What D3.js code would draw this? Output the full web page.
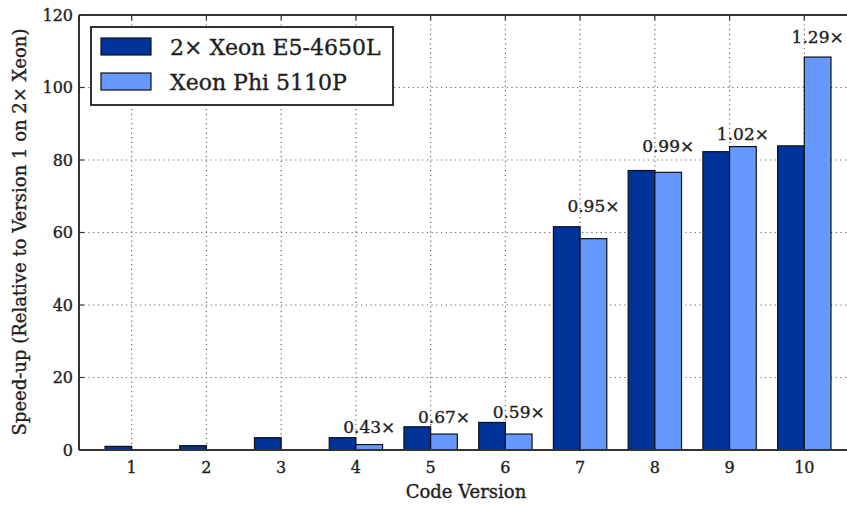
<!DOCTYPE html>
<html lang="en">
<head>
    <meta charset="UTF-8">
    <title>speedup_bars</title>
    <script src="https://d3js.org/d3.v7.min.js"></script>
    <style>
        body { margin: 0; background: #fff; }
        text { font-family: 'DejaVu Serif', 'Liberation Serif', serif; fill: #1e1e1e; stroke: #1e1e1e; stroke-width: 0.35px; }
        .tick-label { font-size: 16px; }
        .axis-title { font-size: 18px; }
        .legend-text { font-size: 22px; }
        .ratio { font-size: 17px; }
        .grid { stroke: #666; stroke-width: 1.2; stroke-dasharray: 1.2 3.5; }
    </style>
</head>
<body>
    <div id="chart"></div>
    <script>
        const width = 847;
        const height = 505;
        const margin = { top: 15, left: 79, bottom: 55 };

        // data
        const versions = [1, 2, 3, 4, 5, 6, 7, 8, 9, 10];
        const seriesNames = ["2\u00d7 Xeon E5-4650L", "Xeon Phi 5110P"];
        const xeon = [1.0, 1.2, 3.4, 3.4, 6.4, 7.6, 61.6, 77.1, 82.3, 83.9];
        const phi = [0, 0, 0, 1.5, 4.4, 4.4, 58.3, 76.6, 83.7, 108.4];
        const ratioLabels = ["", "", "", "0.43\u00d7", "0.67\u00d7", "0.59\u00d7", "0.95\u00d7", "0.99\u00d7", "1.02\u00d7", "1.29\u00d7"];
        const ratioHeights = [0, 0, 0, 6.2, 9.2, 10.6, 67.4, 83.9, 87.2, 113.8];
        const yTicks = [0, 20, 40, 60, 80, 100, 120];
        const colors = ["#003399", "#6699ff"];

        const svg = d3.select("#chart")
            .append("svg")
            .attr("width", width)
            .attr("height", height);

        const x = d3.scaleLinear()
            .domain([0.295, 10.705])
            .range([margin.left, 857]);

        const y = d3.scaleLinear()
            .domain([0, 120])
            .range([height - margin.bottom, margin.top]);

        const barW = x(1.357) - x(1);

        // grid lines
        svg.append("g").selectAll("line")
            .data(yTicks.filter(d => d > 0 && d < 120))
            .enter().append("line")
            .attr("class", "grid")
            .attr("x1", x.range()[0]).attr("x2", x.range()[1])
            .attr("y1", d => y(d)).attr("y2", d => y(d));

        svg.append("g").selectAll("line")
            .data(versions)
            .enter().append("line")
            .attr("class", "grid")
            .attr("x1", d => x(d)).attr("x2", d => x(d))
            .attr("y1", y(120)).attr("y2", y(0));

        // bars
        const series = [xeon, phi];
        series.forEach((vals, s) => {
            svg.append("g").selectAll("rect")
                .data(versions.map((v, i) => ({ v: v, val: vals[i] })).filter(d => d.val > 0))
                .enter().append("rect")
                .attr("x", d => s === 0 ? x(d.v) - barW : x(d.v))
                .attr("y", d => y(d.val))
                .attr("width", barW)
                .attr("height", d => y(0) - y(d.val))
                .attr("fill", colors[s])
                .attr("stroke", "#111")
                .attr("stroke-width", 1.2);
        });

        // ratio labels over the Phi bars
        svg.append("g").selectAll("text")
            .data(versions.map((v, i) => ({ v: v, t: ratioLabels[i], h: ratioHeights[i] })).filter(d => d.t))
            .enter().append("text")
            .attr("class", "ratio")
            .attr("x", d => x(d.v) + barW / 2)
            .attr("y", d => y(d.h))
            .attr("dy", "0.35em")
            .attr("text-anchor", "middle")
            .text(d => d.t);

        // frame
        const frame = svg.append("g")
            .attr("stroke", "#333")
            .attr("stroke-width", 2)
            .attr("fill", "none");
        frame.append("line").attr("x1", x.range()[0]).attr("x2", x.range()[1]).attr("y1", y(0)).attr("y2", y(0));
        frame.append("line").attr("x1", x.range()[0]).attr("x2", x.range()[1]).attr("y1", y(120)).attr("y2", y(120));
        frame.append("line").attr("x1", x.range()[0]).attr("x2", x.range()[0]).attr("y1", y(0)).attr("y2", y(120));

        // small inner ticks
        svg.append("g").selectAll("line")
            .data(versions)
            .enter().append("line")
            .attr("stroke", "#333").attr("stroke-width", 1.2)
            .attr("x1", d => x(d)).attr("x2", d => x(d))
            .attr("y1", y(120)).attr("y2", y(120) + 5);
        svg.append("g").selectAll("line")
            .data(yTicks)
            .enter().append("line")
            .attr("stroke", "#333").attr("stroke-width", 1.2)
            .attr("x1", x.range()[0]).attr("x2", x.range()[0] + 5)
            .attr("y1", d => y(d)).attr("y2", d => y(d));

        // tick labels
        svg.append("g").selectAll("text")
            .data(yTicks)
            .enter().append("text")
            .attr("class", "tick-label")
            .attr("x", margin.left - 6)
            .attr("y", d => y(d))
            .attr("dy", "0.35em")
            .attr("text-anchor", "end")
            .text(d => d);

        svg.append("g").selectAll("text")
            .data(versions)
            .enter().append("text")
            .attr("class", "tick-label")
            .attr("x", d => x(d))
            .attr("y", y(0) + 17)
            .attr("dy", "0.35em")
            .attr("text-anchor", "middle")
            .text(d => d);

        // axis titles
        svg.append("text")
            .attr("class", "axis-title")
            .attr("x", 466)
            .attr("y", 492)
            .attr("dy", "0.35em")
            .attr("text-anchor", "middle")
            .text("Code Version");

        svg.append("text")
            .attr("class", "axis-title")
            .attr("transform", "translate(20, 232) rotate(-90)")
            .attr("dy", "0.35em")
            .attr("text-anchor", "middle")
            .text("Speed-up (Relative to Version 1 on 2\u00d7 Xeon)");

        // legend
        const legend = svg.append("g");
        legend.append("rect")
            .attr("x", 91).attr("y", 27)
            .attr("width", 302).attr("height", 78)
            .attr("fill", "#fff")
            .attr("stroke", "#333")
            .attr("stroke-width", 2);

        const items = legend.selectAll(".legend-item")
            .data(seriesNames)
            .enter().append("g")
            .attr("class", "legend-item")
            .attr("transform", (d, i) => `translate(101, ${38 + i * 35})`);

        items.append("rect")
            .attr("width", 50).attr("height", 17)
            .attr("fill", (d, i) => colors[i])
            .attr("stroke", "#111")
            .attr("stroke-width", 1.2);

        items.append("text")
            .attr("class", "legend-text")
            .attr("x", 69)
            .attr("y", 9)
            .attr("dy", "0.35em")
            .text(d => d);
    </script>
</body>
</html>
